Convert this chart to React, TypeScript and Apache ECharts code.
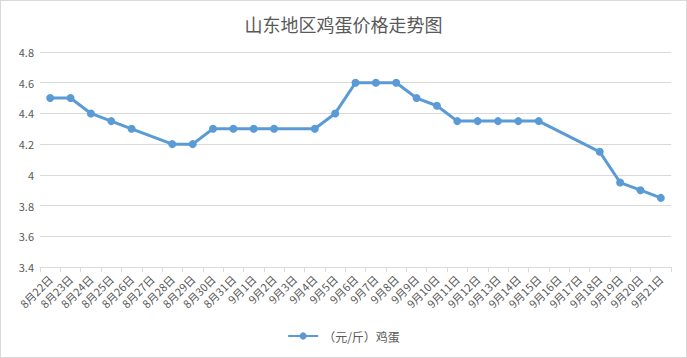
import React, { useEffect, useRef } from "react";
import * as echarts from "echarts";

const categories = [
  "8月22日", "8月23日", "8月24日", "8月25日", "8月26日", "8月27日", "8月28日", "8月29日", "8月30日", "8月31日",
  "9月1日", "9月2日", "9月3日", "9月4日", "9月5日", "9月6日", "9月7日", "9月8日", "9月9日", "9月10日",
  "9月11日", "9月12日", "9月13日", "9月14日", "9月15日", "9月16日", "9月17日", "9月18日", "9月19日", "9月20日", "9月21日",
];
const prices: (number | null)[] = [
  4.5, 4.5, 4.4, 4.35, 4.3, null, 4.2, 4.2, 4.3, 4.3,
  4.3, 4.3, null, 4.3, 4.4, 4.6, 4.6, 4.6, 4.5, 4.45,
  4.35, 4.35, 4.35, 4.35, 4.35, null, null, 4.15, 3.95, 3.9, 3.85,
];
const seriesName = "（元/斤）鸡蛋";
const titleText = "山东地区鸡蛋价格走势图";

export default function App() {
  const ref = useRef<HTMLDivElement>(null);
  useEffect(() => {
    document.body.style.margin = "0";
    const chart = echarts.init(ref.current!, null, { renderer: "svg" });
    const font = "'Noto Sans CJK SC', 'Noto Sans', sans-serif";
    chart.setOption({
      animation: false,
      textStyle: { fontFamily: font },
      title: {
        text: titleText,
        left: "center",
        top: 9,
        textStyle: { fontSize: 18, fontWeight: "normal", color: "#595959", fontFamily: font },
      },
      legend: {
        bottom: 10,
        left: "center",
        itemWidth: 30,
        itemHeight: 9,
        textStyle: { fontSize: 12, color: "#595959", fontFamily: font },
        data: [seriesName],
      },
      grid: { left: 39, right: 15, top: 51, bottom: 90, containLabel: false },
      xAxis: {
        type: "category",
        data: categories,
        boundaryGap: true,
        axisLine: { lineStyle: { color: "#d9d9d9" } },
        axisTick: { show: true, length: 5, lineStyle: { color: "#d9d9d9" }, alignWithLabel: false },
        axisLabel: { interval: 0, rotate: 45, fontSize: 11, color: "#595959", margin: 10, fontFamily: font },
      },
      yAxis: {
        type: "value",
        min: 3.4,
        max: 4.8,
        interval: 0.2,
        axisLine: { show: false },
        axisTick: { show: false },
        axisLabel: {
          fontSize: 11,
          color: "#595959",
          margin: 6,
          fontFamily: font,
          formatter: (v: number) => String(parseFloat(v.toFixed(1))),
        },
        splitLine: { lineStyle: { color: "#d9d9d9" } },
      },
      series: [
        {
          name: seriesName,
          type: "line",
          data: prices,
          connectNulls: true,
          symbol: "circle",
          symbolSize: 8,
          lineStyle: { color: "#5b9bd5", width: 3 },
          itemStyle: { color: "#5b9bd5" },
        },
      ],
    });
    return () => chart.dispose();
  }, []);
  return (
    <div
      ref={ref}
      style={{ width: 687, height: 358, border: "1px solid #d9d9d9", boxSizing: "border-box", background: "#fff" }}
    />
  );
}
